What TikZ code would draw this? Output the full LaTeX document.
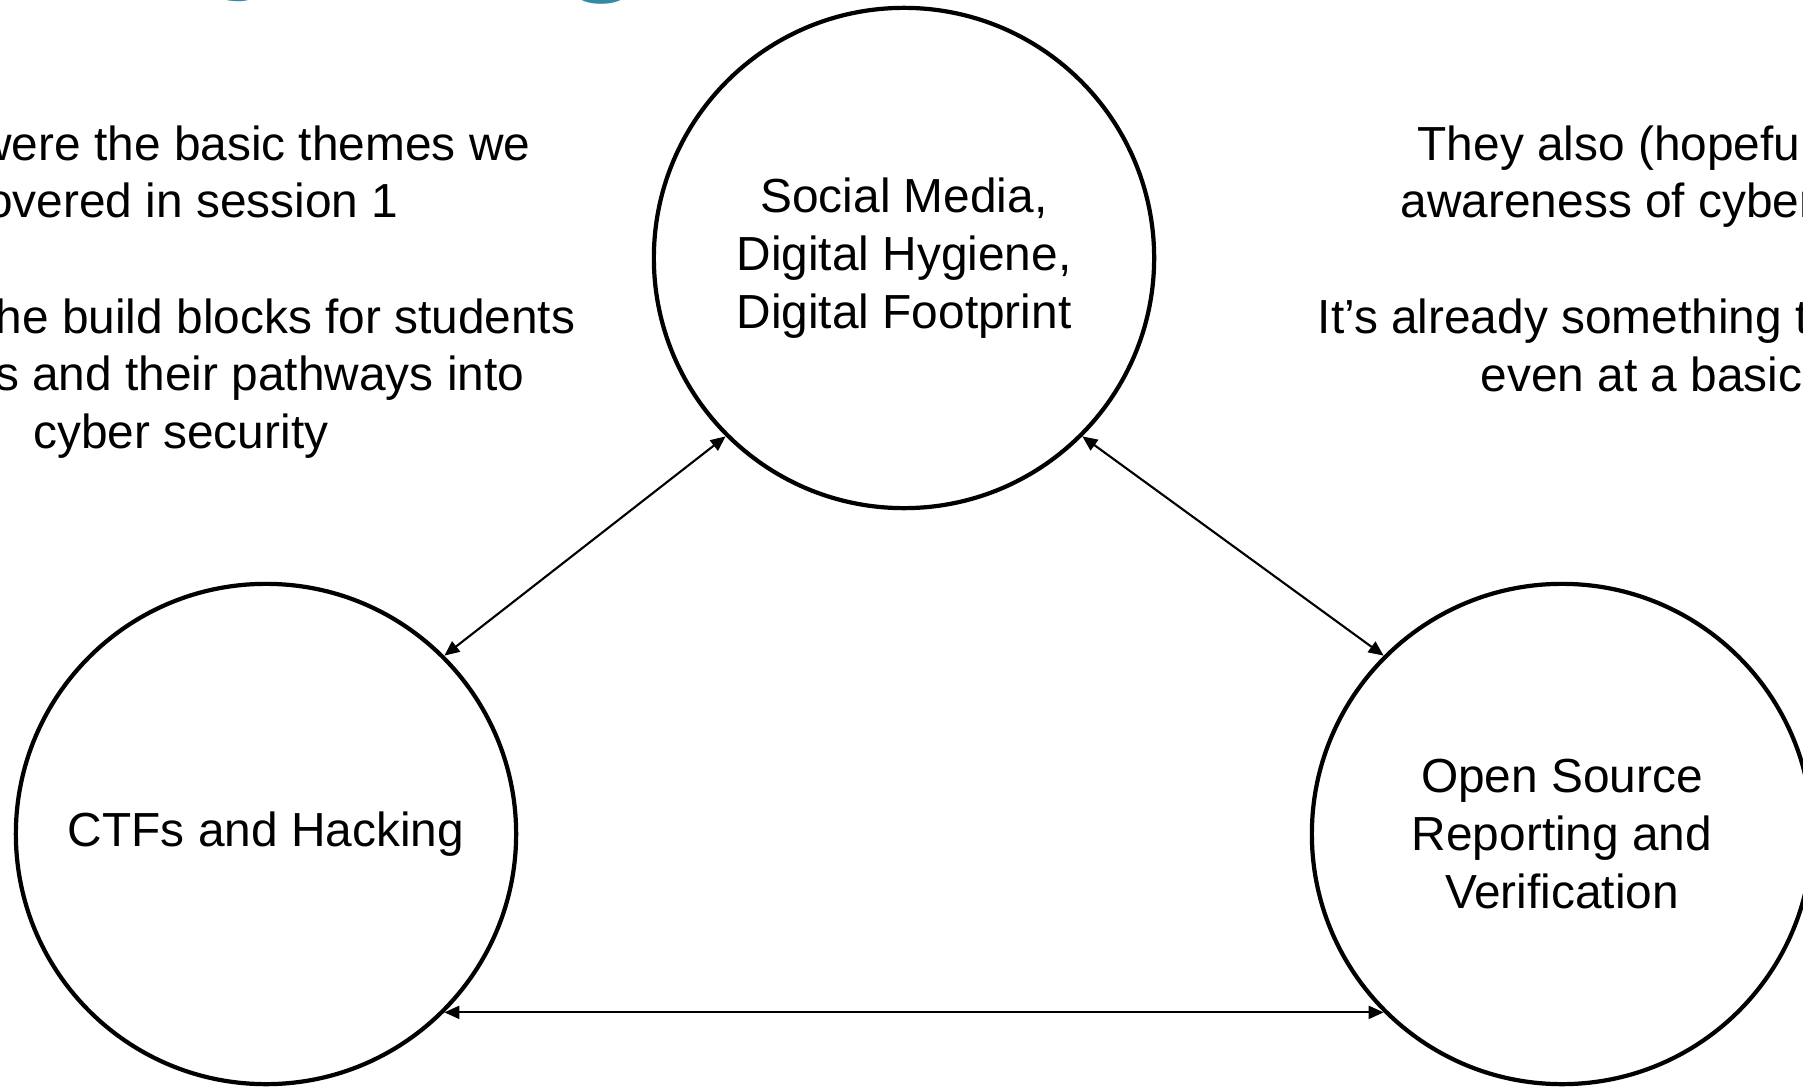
\documentclass[tikz,border=0pt]{standalone}
\usepackage{fontspec}
\setmainfont{Liberation Sans}
\usepackage{tikz}
\usetikzlibrary{arrows.meta,shapes,positioning,calc}
\definecolor{titleteal}{RGB}{52,137,164}
\tikzset{theme/.style={draw,circle,line width=1.2pt,minimum size=5cm,inner sep=0pt,align=center,font=\fontsize{13.6pt}{16.4pt}\selectfont}}
\tikzset{link/.style={{Triangle[length=1.5mm,width=1.3mm]}-{Triangle[length=1.5mm,width=1.3mm]},line width=0.6pt}}
\tikzset{note/.style={inner sep=0pt,font=\fontsize{13.6pt}{16.4pt}\selectfont}}
\tikzset{ttl/.style={inner sep=0pt,anchor=base west,text=titleteal,font=\fontsize{40pt}{48pt}\selectfont\bfseries}}

\begin{document}
\begin{tikzpicture}[x=0.01cm,y=-0.01cm]
\useasboundingbox (0,0) rectangle (1803,1088);

% title, cut off at the top
\node[ttl] (ttly) at (220,-27) {y};
\node[ttl] (ttlg) at (560,-25) {g};

\node[theme] (social) at (904,258) {Social Media,\\Digital Hygiene,\\Digital Footprint};
\node[theme] (ctf) at (266,834) {CTFs and Hacking};
\node[theme] (osint) at (1562,834) {Open Source\\Reporting and\\Verification};

\draw[link] (ctf.north east) -- (social.south west);
\draw[link] (social.south east) -- (osint.north west);
\draw[link] (ctf.south east) -- (osint.south west);

% left notes
\node[note,anchor=base east] (l1) at (531,161) {were the basic themes we};
\node[note,anchor=base east] (l2) at (399,218) {overed in session 1};
\node[note,anchor=base east] (l3) at (576,333) {he build blocks for students};
\node[note,anchor=base east] (l4) at (525,390) {s and their pathways into};
\node[note,anchor=base east] (l5) at (329,448) {cyber security};

% right notes
\node[note,anchor=base west] (r1) at (1417,161) {They also (hopeful};
\node[note,anchor=base west] (r2) at (1400,218) {awareness of cyber};
\node[note,anchor=base west] (r3) at (1317,333) {It’s already something t};
\node[note,anchor=base west] (r4) at (1480,391) {even at a basic};

\end{tikzpicture}
\end{document}
